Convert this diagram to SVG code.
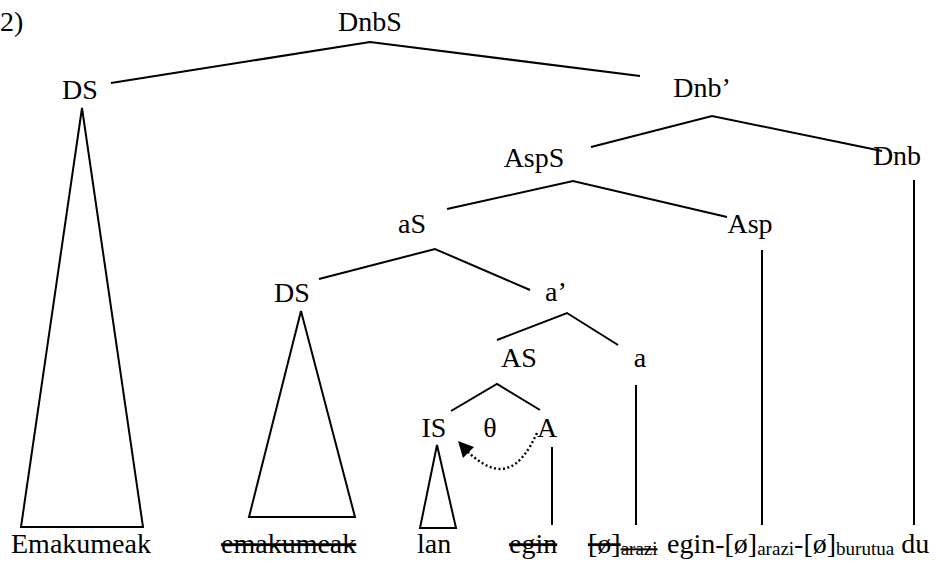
<svg xmlns="http://www.w3.org/2000/svg" width="939" height="562" viewBox="0 0 939 562">
<style>
.t{font-family:'Liberation Serif','Times New Roman',serif;font-size:28px;fill:#000}
.lbl{text-anchor:middle}
.sub{font-size:19px}
.del{text-decoration:line-through}
.c{stroke:#000;stroke-width:2;fill:none}
</style>
<rect width="939" height="562" fill="#fff"/>
<g class="t">
<text x="0" y="31">2)</text>
<g id="DnbS"><text class="lbl" x="370" y="31">DnbS</text></g>
<g id="DS1"><text class="lbl" x="80" y="99">DS</text></g>
<g id="Dnb1"><text class="lbl" x="702" y="97">Dnb’</text></g>
<g id="AspS"><text class="lbl" x="534" y="167">AspS</text></g>
<g id="Dnb"><text class="lbl" x="897" y="165">Dnb</text></g>
<g id="aS"><text class="lbl" x="412" y="233">aS</text></g>
<g id="Asp"><text class="lbl" x="750" y="233">Asp</text></g>
<g id="DS2"><text class="lbl" x="292" y="302">DS</text></g>
<g id="a1"><text class="lbl" x="556" y="301">a’</text></g>
<g id="AS"><text class="lbl" x="519" y="367">AS</text></g>
<g id="a"><text class="lbl" x="640" y="367">a</text></g>
<g id="IS"><text class="lbl" x="434" y="437">IS</text></g>
<g id="theta"><text class="lbl" x="490" y="437">θ</text></g>
<g id="A"><text class="lbl" x="547" y="437">A</text></g>
<g id="words">
<text x="11" y="553">Emakumeak</text>
<text class="del" x="221" y="553">emakumeak</text>
<text x="417" y="553">lan</text>
<text class="del" x="509" y="553">egin</text>
<text class="del" x="588" y="553">[ø]<tspan class="sub" dy="2">arazi</tspan></text>
<text x="667" y="553">egin-[ø]<tspan class="sub" dy="2">arazi</tspan><tspan dy="-2">-[ø]</tspan><tspan class="sub" dy="2">burutua</tspan><tspan dy="-2"> du</tspan></text>
</g>
</g>
<g id="connectors">
<polyline class="c" points="111,83 370,42 640,76"/>
<polyline class="c" points="591,147 712,116 882,151"/>
<polyline class="c" points="447,209 573,181 727,217"/>
<polyline class="c" points="319,279 435,249 530,290"/>
<polyline class="c" points="497,340 567,313 618,345"/>
<polyline class="c" points="451,411 497,384 540,410"/>
<line class="c" x1="914" y1="180" x2="914" y2="525"/>
<line class="c" x1="762" y1="250" x2="762" y2="525"/>
<line class="c" x1="636" y1="385" x2="636" y2="525"/>
<line class="c" x1="552" y1="447" x2="552" y2="525"/>
<polygon class="c" points="82,108 21,527 143,527"/>
<polygon class="c" points="301,311 249,517 355,517"/>
<polygon class="c" points="437,445 420,528 456,528"/>
<path d="M537,433 C520,470 500,482 468,452" fill="none" stroke="#000" stroke-width="2.4" stroke-dasharray="2,2.5"/>
<polygon points="458,441 474,447 463,458" fill="#000"/>
</g>
</svg>
